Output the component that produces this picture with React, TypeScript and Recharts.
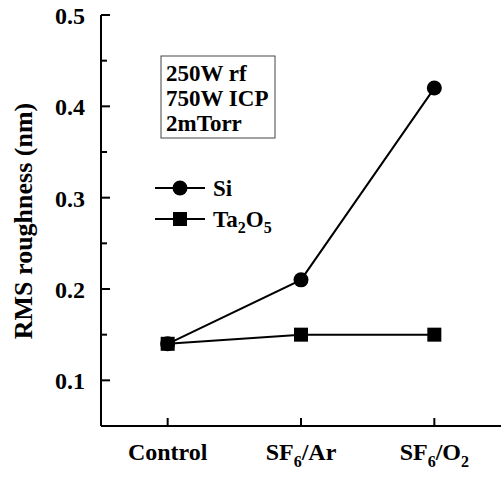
import React from 'react';
import { LineChart, Line, XAxis, YAxis, Legend } from 'recharts';

const categories = ['Control', 'SF6/Ar', 'SF6/O2'];
const siValues = [0.14, 0.21, 0.42];
const ta2o5Values = [0.14, 0.15, 0.15];
const yTicks = [0.1, 0.15, 0.2, 0.25, 0.3, 0.35, 0.4, 0.45, 0.5];
const yTickLabels = ['0.1', '', '0.2', '', '0.3', '', '0.4', '', '0.5'];
const noteLines = ['250W rf', '750W ICP', '2mTorr'];
const yAxisTitle = 'RMS roughness (nm)';

const data = categories.map((c, i) => ({ x: i, name: c, si: siValues[i], ta: ta2o5Values[i] }));

const FONT = 'Liberation Serif';
const txt = (size: number) => ({ fontFamily: FONT, fontWeight: 'bold' as const, fontSize: size });
const CSS = `svg text, svg tspan, .ser { font-family: "Liberation Serif", serif !important; font-weight: bold !important; }`;

function chem(str: string, subSize: number, shift: number) {
  const parts = str.match(/\d+|\D+/g) || [];
  const out: any[] = [];
  let down = false;
  parts.forEach((p, i) => {
    if (/^\d+$/.test(p)) {
      out.push(<tspan key={i} style={{ fontSize: subSize }} dy={shift}>{p}</tspan>);
      down = true;
    } else {
      out.push(<tspan key={i} dy={down ? -shift : 0}>{p}</tspan>);
      down = false;
    }
  });
  return out;
}

const XTick = (props: any) => {
  const { x, y, payload } = props;
  const label = categories[Math.round(payload.value)] ?? '';
  return (
    <g>
      <line x1={x} y1={y} x2={x} y2={y - 8} stroke="#000" strokeWidth={2} />
      <text className="ser" x={x} y={y + 34} textAnchor="middle" style={txt(24)} fill="#000">
        {chem(label, 16, 7)}
      </text>
    </g>
  );
};

const makeYTick = (side: 'left' | 'right') => (props: any) => {
  const { x, y, payload, index } = props;
  const idx = yTicks.findIndex((t) => Math.abs(t - payload.value) < 1e-9);
  const major = idx % 2 === 0;
  const len = major ? 9 : 6;
  const dir = side === 'left' ? 1 : -1;
  const label = yTickLabels[idx] ?? '';
  return (
    <g key={index}>
      <line x1={x} y1={y} x2={x + dir * len} y2={y} stroke="#000" strokeWidth={2} />
      {side === 'left' && label ? (
        <text className="ser" x={x - 16} y={y + 9} textAnchor="end" style={txt(24)} fill="#000">
          {label}
        </text>
      ) : null}
    </g>
  );
};

const LeftTick = makeYTick('left');
const RightTick = makeYTick('right');

const CircleDot = (p: any) => <circle key={`c${p.index}`} cx={p.cx} cy={p.cy} r={7.5} fill="#000" />;
const SquareDot = (p: any) => <rect key={`s${p.index}`} x={p.cx - 7} y={p.cy - 7} width={14} height={14} fill="#000" />;

const LegendContent = (props: any) => {
  const payload = props.payload || [];
  return (
    <svg width={504} height={478} style={{ position: 'absolute', left: 0, top: 0, overflow: 'visible', pointerEvents: 'none' }}>
      <rect x={161} y={56} width={114} height={82} fill="#fff" stroke="#444" strokeWidth={1} />
      {noteLines.map((t, i) => (
        <text className="ser" key={t} x={166} y={81 + i * 25} style={txt(23)} fill="#000">
          {t}
        </text>
      ))}
      {payload.map((entry: any, i: number) => {
        const cy = 188 + i * 31;
        const isSquare = entry.dataKey === 'ta';
        return (
          <g key={entry.value}>
            <line x1={155} y1={cy} x2={205} y2={cy} stroke="#000" strokeWidth={2} />
            {isSquare ? (
              <rect x={173} y={cy - 7} width={14} height={14} fill="#000" />
            ) : (
              <circle cx={180} cy={cy} r={7.5} fill="#000" />
            )}
            <text className="ser" x={213} y={cy + 8} style={txt(23)} fill="#000">
              {chem(entry.value, 16, 6)}
            </text>
          </g>
        );
      })}
    </svg>
  );
};

export default function App() {
  return (
    <div style={{ position: 'absolute', left: 0, top: 0, width: 504, height: 478, background: '#fff' }}>
      <style>{CSS}</style>
      <LineChart width={504} height={478} data={data} margin={{ top: 15, right: 3, bottom: 12, left: 41 }}>
        <XAxis
          dataKey="x"
          type="number"
          domain={[-0.5, 2.5]}
          ticks={[0, 1, 2]}
          height={40}
          tick={<XTick />}
          tickLine={false}
          tickSize={0}
          tickMargin={0}
          interval={0}
          allowDataOverflow
          axisLine={{ stroke: '#000', strokeWidth: 2 }}
        />
        <XAxis
          xAxisId="top"
          orientation="top"
          dataKey="x"
          type="number"
          domain={[-0.5, 2.5]}
          height={0}
          tick={false}
          tickLine={false}
          axisLine={{ stroke: '#000', strokeWidth: 2 }}
        />
        <YAxis
          yAxisId="l"
          type="number"
          domain={[0.05, 0.5]}
          ticks={yTicks}
          width={60}
          tick={<LeftTick />}
          tickLine={false}
          tickSize={0}
          tickMargin={0}
          interval={0}
          allowDataOverflow
          axisLine={{ stroke: '#000', strokeWidth: 2 }}
        />
        <YAxis
          yAxisId="r"
          orientation="right"
          type="number"
          domain={[0.05, 0.5]}
          ticks={yTicks}
          width={0}
          tick={<RightTick />}
          tickLine={false}
          tickSize={0}
          tickMargin={0}
          interval={0}
          allowDataOverflow
          axisLine={{ stroke: '#000', strokeWidth: 2 }}
        />
        <Line yAxisId="l" dataKey="si" name="Si" stroke="#000" strokeWidth={2} dot={CircleDot} isAnimationActive={false} />
        <Line yAxisId="l" dataKey="ta" name="Ta2O5" stroke="#000" strokeWidth={2} dot={SquareDot} isAnimationActive={false} />
        <Legend
          content={<LegendContent />}
          wrapperStyle={{ position: 'absolute', left: 0, top: 0, width: 0, height: 0 }}
        />
      </LineChart>
      <svg width={504} height={478} style={{ position: 'absolute', left: 0, top: 0, pointerEvents: 'none' }}>
        <text className="ser" x={32} y={221} transform="rotate(-90 32 221)" textAnchor="middle" style={txt(26)} fill="#000">
          {yAxisTitle}
        </text>
      </svg>
    </div>
  );
}
